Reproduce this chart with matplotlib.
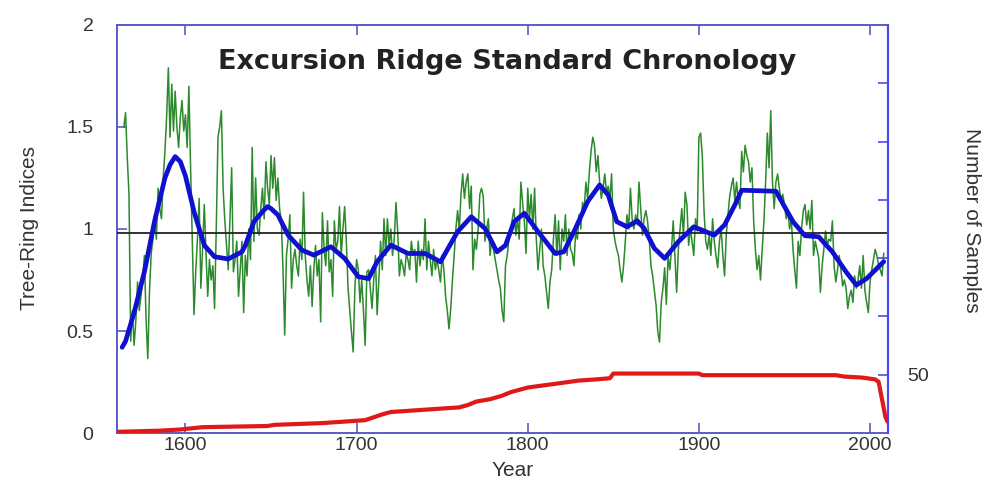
import matplotlib
matplotlib.use("Agg")
import matplotlib.pyplot as plt

plt.rcParams['font.family'] = ['Liberation Sans', 'DejaVu Sans']

# ---- annual tree-ring indices (green) ----
ring_start = 1564
ring_values = [
    1.50, 1.57, 1.35, 1.17, 0.45, 0.60, 0.43, 0.55, 0.74, 0.60,   # 1564-1573
    0.67, 0.75, 0.87, 0.55, 0.365, 0.70, 0.88, 0.95, 1.07, 0.95,  # 1574-1583
    1.20, 1.10, 1.05, 1.25, 1.38, 1.55, 1.79, 1.45, 1.71, 1.48,   # 1584-1593
    1.675, 1.50, 1.40, 1.55, 1.63, 1.48, 1.56, 1.40, 1.70, 1.30,  # 1594-1603
    0.94, 0.58, 0.79, 0.95, 1.15, 0.71, 0.90, 1.12, 0.88, 0.67,   # 1604-1613
    0.85, 0.75, 0.82, 0.61, 1.00, 1.45, 1.50, 1.58, 1.20, 1.04,   # 1614-1623
    0.92, 0.80, 1.05, 1.30, 0.79, 0.85, 0.94, 0.67, 0.80, 0.94,   # 1624-1633
    0.59, 0.87, 0.77, 1.00, 0.85, 1.40, 0.94, 1.25, 1.00, 0.97,   # 1634-1643
    1.10, 1.20, 1.05, 1.33, 1.20, 1.12, 1.36, 1.20, 1.35, 1.14,   # 1644-1653
    1.25, 1.10, 1.04, 0.80, 0.48, 0.87, 0.95, 1.07, 0.71, 0.85,   # 1654-1663
    0.90, 0.82, 0.77, 0.95, 0.85, 1.18, 0.87, 0.75, 0.67, 0.82,   # 1664-1673
    0.62, 0.80, 0.92, 0.77, 0.85, 0.545, 1.08, 0.90, 0.82, 1.04,  # 1674-1683
    0.79, 0.85, 0.67, 1.04, 0.90, 0.94, 1.11, 0.87, 1.00, 1.11,   # 1684-1693
    0.94, 0.71, 0.60, 0.495, 0.397, 0.71, 0.85, 0.80, 0.64, 0.75, # 1694-1703
    0.60, 0.43, 0.79, 0.80, 0.71, 0.61, 0.75, 0.87, 0.58, 0.75,   # 1704-1713
    0.94, 0.80, 1.05, 0.87, 1.05, 0.92, 1.00, 0.87, 0.95, 1.13,   # 1714-1723
    0.99, 0.77, 0.85, 0.82, 0.77, 0.88, 0.85, 0.80, 0.94, 0.87,   # 1724-1733
    0.90, 0.74, 0.94, 0.82, 0.90, 0.85, 1.05, 0.80, 0.94, 0.85,   # 1734-1743
    0.77, 0.90, 0.80, 0.85, 0.80, 0.74, 0.87, 0.80, 0.67, 0.60,   # 1744-1753
    0.51, 0.61, 0.75, 0.87, 1.00, 1.09, 1.00, 1.17, 1.27, 1.15,   # 1754-1763
    1.23, 1.27, 1.10, 1.21, 0.80, 0.95, 0.90, 1.00, 1.17, 1.20,   # 1764-1773
    1.16, 0.94, 1.00, 1.05, 0.87, 0.95, 0.90, 0.85, 0.80, 0.75,   # 1774-1783
    0.71, 0.60, 0.545, 0.82, 0.87, 0.95, 1.00, 1.05, 1.10, 0.97,  # 1784-1793
    1.05, 0.95, 1.23, 1.13, 1.04, 0.88, 1.20, 1.05, 1.17, 1.00,   # 1794-1803
    1.20, 0.95, 0.80, 0.90, 1.00, 0.82, 0.77, 0.69, 0.61, 0.74,   # 1804-1813
    0.80, 0.95, 1.07, 0.87, 1.04, 0.80, 1.00, 0.94, 1.07, 0.87,   # 1814-1823
    1.00, 0.90, 0.88, 0.82, 0.99, 0.95, 1.07, 1.00, 1.13, 1.10,   # 1824-1833
    1.23, 1.15, 1.28, 1.38, 1.45, 1.41, 1.28, 1.36, 1.23, 1.15,   # 1834-1843
    1.20, 1.27, 1.18, 1.21, 1.15, 1.27, 1.00, 0.94, 0.90, 0.87,   # 1844-1853
    0.80, 0.74, 0.82, 0.94, 1.07, 1.00, 1.20, 1.05, 1.00, 1.07,   # 1854-1863
    1.02, 1.23, 1.10, 0.97, 1.05, 1.09, 1.04, 0.95, 0.82, 0.77,   # 1864-1873
    0.70, 0.626, 0.495, 0.446, 0.64, 0.71, 0.81, 0.63, 0.87, 0.80, # 1874-1883
    0.90, 1.04, 0.87, 0.69, 0.90, 1.00, 1.10, 0.97, 1.18, 1.12,   # 1884-1893
    0.92, 1.00, 0.94, 0.87, 1.05, 0.99, 1.45, 1.47, 1.36, 1.09,   # 1894-1903
    0.94, 0.90, 0.97, 0.87, 1.05, 0.94, 0.87, 0.81, 0.94, 1.00,   # 1904-1913
    0.87, 0.77, 0.97, 1.07, 1.16, 1.21, 1.25, 1.14, 1.23, 1.14,   # 1914-1923
    1.10, 1.38, 1.28, 1.41, 1.36, 1.33, 1.23, 1.30, 1.04, 0.90,   # 1924-1933
    0.80, 0.87, 0.75, 0.90, 1.04, 1.23, 1.47, 1.30, 1.58, 1.23,   # 1934-1943
    1.10, 1.23, 1.27, 1.20, 1.14, 1.17, 1.12, 1.05, 1.09, 1.00,   # 1944-1953
    1.05, 0.90, 0.80, 0.71, 0.94, 0.87, 1.00, 1.09, 1.12, 1.02,   # 1954-1963
    1.09, 1.00, 1.14, 0.87, 0.94, 0.90, 0.86, 0.69, 0.82, 0.90,   # 1964-1973
    0.99, 0.92, 0.95, 0.94, 1.04, 0.82, 0.74, 0.80, 0.87, 0.80,   # 1974-1983
    0.72, 0.75, 0.71, 0.61, 0.67, 0.70, 0.64, 0.77, 0.71, 0.75,   # 1984-1993
    0.82, 0.71, 0.87, 0.70, 0.64, 0.59, 0.74, 0.80, 0.85, 0.90,   # 1994-2003
    0.87, 0.82, 0.80, 0.77, 0.88,                                 # 2004-2008
]
ring_years = list(range(ring_start, ring_start + len(ring_values)))

# ---- smoothed curve (blue) ----
smooth_years = [1563, 1565, 1570, 1576, 1582, 1588, 1591, 1594, 1597, 1600,
                1605, 1611, 1617, 1625, 1633, 1635, 1640, 1646, 1648, 1650,
                1654, 1660, 1668, 1675, 1685, 1693, 1701, 1707, 1712, 1720,
                1730, 1740, 1749, 1759, 1767, 1775, 1782, 1787, 1792, 1798,
                1806, 1816, 1821, 1827, 1835, 1842, 1847, 1852, 1858, 1864,
                1868, 1874, 1880, 1888, 1897, 1909, 1915, 1921, 1925, 1945,
                1955, 1962, 1970, 1978, 1986, 1992, 1998, 2008]
smooth_values = [0.42, 0.45, 0.59, 0.79, 1.04, 1.25, 1.315, 1.355, 1.33, 1.26,
                 1.085, 0.92, 0.864, 0.853, 0.888, 0.92, 1.036, 1.094, 1.11, 1.10,
                 1.069, 0.97, 0.897, 0.872, 0.913, 0.856, 0.766, 0.757, 0.84, 0.921,
                 0.88, 0.88, 0.839, 0.987, 1.06, 1.003, 0.888, 0.92, 1.036, 1.077,
                 0.987, 0.88, 0.888, 0.987, 1.134, 1.216, 1.167, 1.036, 1.011, 1.04,
                 1.003, 0.905, 0.856, 0.938, 1.011, 0.97, 1.02, 1.118, 1.19, 1.185,
                 1.036, 0.967, 0.962, 0.888, 0.79, 0.725, 0.757, 0.84]

# ---- sample depth (red, right axis) ----
depth_years = [1560, 1585, 1597, 1610, 1648, 1652, 1680, 1700, 1705, 1715,
               1720, 1740, 1760, 1765, 1770, 1778, 1785, 1790, 1800, 1810,
               1820, 1830, 1840, 1848, 1850, 1900, 1902, 1980, 1985, 1995,
               2003, 2005, 2007, 2009, 2010]
depth_values = [1, 2, 3, 5, 6, 7, 8.5, 10.5, 11, 16,
                18, 20, 22, 24, 27, 29, 32, 35, 39, 41,
                43, 45, 46, 47, 51, 51, 49.6, 49.6, 48.4, 47.6,
                46, 43.9, 29, 13.7, 10.5]

mean_level = 0.98
title = "Excursion Ridge Standard Chronology"
x_ticks = [1600, 1700, 1800, 1900, 2000]
y_ticks = [0, 0.5, 1, 1.5, 2]
y_tick_labels = ["0", "0.5", "1", "1.5", "2"]

W, H = 989, 483
fig = plt.figure(figsize=(W / 100, H / 100), dpi=100)
ax = fig.add_axes([117 / W, 1 - 433 / H, 771 / W, 408 / H])

spine_col = '#5b5bc8'
right_col = '#4a4af0'
txt_col = '#333333'

ax.plot(ring_years, ring_values, color='#2b8a2b', lw=1.1, zorder=2)
ax.axhline(mean_level, color='#222222', lw=1.3, zorder=3)
ax.plot(smooth_years, smooth_values, color='#1010d0', lw=3.4, zorder=4,
        solid_joinstyle='round', solid_capstyle='round')

ax.set_xlim(1560, 2010.5)
ax.set_ylim(0, 2)
ax.set_xticks(x_ticks)
ax.set_yticks(y_ticks)
ax.set_yticklabels(y_tick_labels)
ax.tick_params(axis='x', direction='in', length=7, width=1.2, color=spine_col,
               top=True, labelsize=14, labelcolor=txt_col, pad=3)
ax.tick_params(axis='y', direction='in', length=7, width=1.2, color=spine_col,
               labelsize=14, labelcolor=txt_col, pad=17)
for s in ['left', 'top', 'bottom']:
    ax.spines[s].set_color(spine_col)
    ax.spines[s].set_linewidth(1.4)
ax.spines['right'].set_visible(False)

ax2 = ax.twinx()
ax2.plot(depth_years, depth_values, color='#e01818', lw=3.0, zorder=5)
ax2.set_ylim(0, 350)
ax2.set_yticks([50, 100, 150, 200, 250, 300])
ax2.set_yticklabels(["50", "", "", "", "", ""])
ax2.tick_params(axis='y', direction='in', length=7, width=1.2, color=right_col,
                labelsize=14, labelcolor=txt_col, pad=14)
for s in ['left', 'top', 'bottom']:
    ax2.spines[s].set_visible(False)
ax2.spines['right'].set_color(right_col)
ax2.spines['right'].set_linewidth(1.6)

fig.text(507 / W, 1 - 62 / H, title, ha='center', va='center',
         fontsize=19.5, fontweight='bold', color='#222222',
         family=['DejaVu Sans'])
fig.text(30 / W, 1 - 228 / H, "Tree-Ring Indices", rotation=90,
         ha='center', va='center', fontsize=15, color=txt_col)
fig.text(972 / W, 1 - 220 / H, "Number of Samples", rotation=270,
         ha='center', va='center', fontsize=15, color=txt_col)
fig.text(513 / W, 1 - 470 / H, "Year", ha='center', va='center',
         fontsize=15, color=txt_col)

fig.savefig("out.png", dpi=100)
